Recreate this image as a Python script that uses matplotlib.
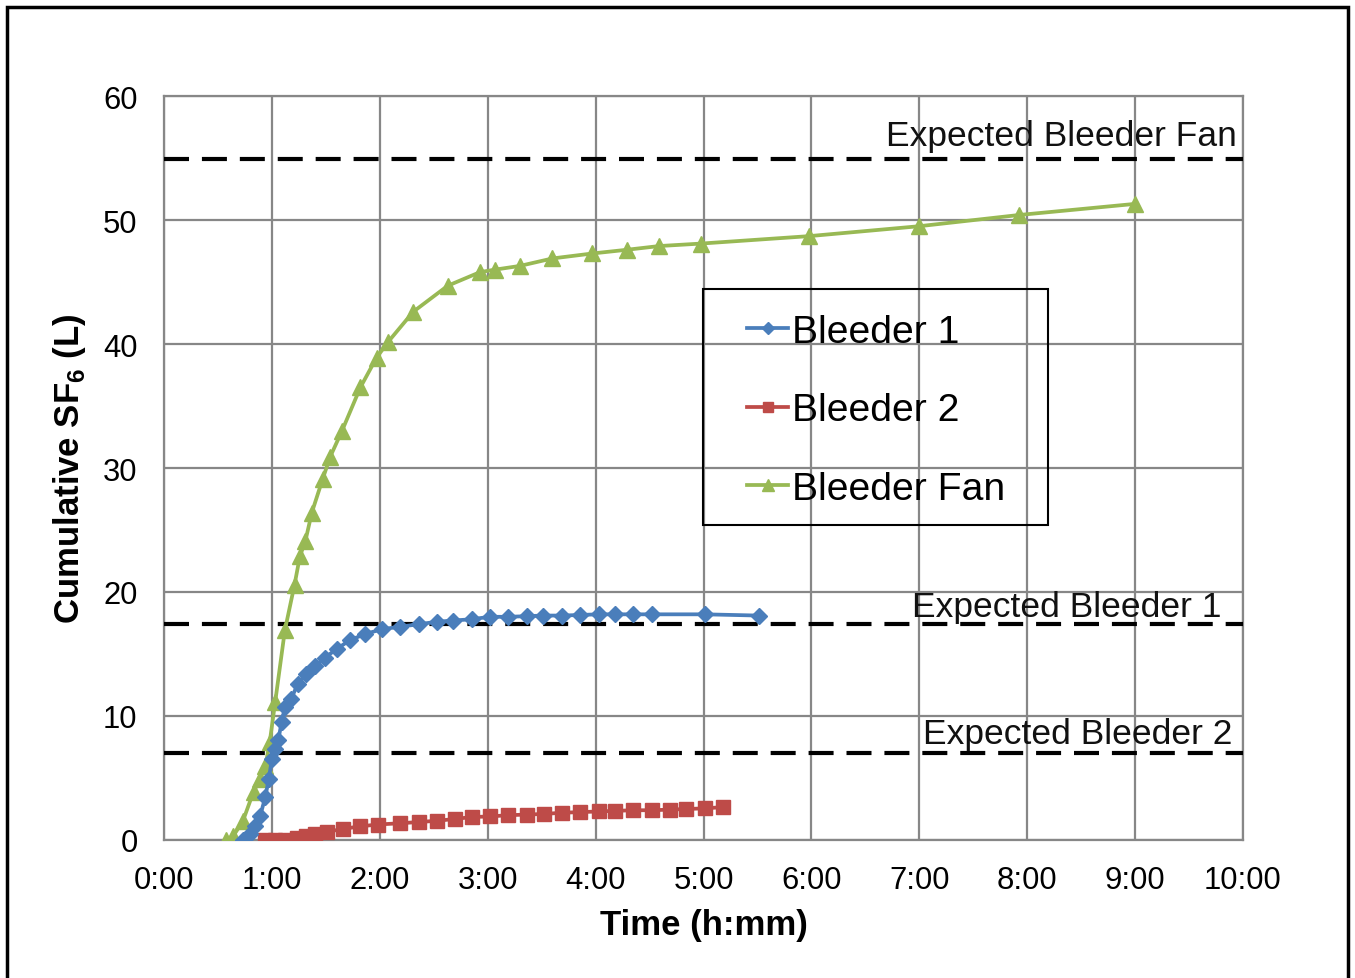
import matplotlib
matplotlib.use('Agg')
import matplotlib.pyplot as plt
from matplotlib.patches import Rectangle

plt.rcParams['font.family'] = ['Liberation Sans', 'DejaVu Sans']
plt.rcParams['mathtext.fontset'] = 'custom'
plt.rcParams['mathtext.bf'] = 'Liberation Sans:bold'
plt.rcParams['mathtext.rm'] = 'Liberation Sans'

# elapsed time in hours, cumulative SF6 in litres
b1_time = [0.73, 0.80, 0.84, 0.89, 0.94, 0.97, 1.00, 1.03, 1.06, 1.09, 1.12, 1.18,
           1.24, 1.32, 1.40, 1.49, 1.60, 1.72, 1.86, 2.02, 2.19, 2.36, 2.53, 2.68,
           2.85, 3.02, 3.19, 3.36, 3.51, 3.69, 3.86, 4.03, 4.18, 4.35, 4.52, 5.01, 5.51]
b1_sf6 = [0.0, 0.5, 1.1, 1.9, 3.5, 4.9, 6.5, 7.3, 8.1, 9.5, 10.7, 11.4,
          12.6, 13.4, 14.0, 14.7, 15.4, 16.1, 16.6, 17.0, 17.2, 17.4, 17.6, 17.7,
          17.8, 18.0, 18.0, 18.05, 18.1, 18.1, 18.15, 18.2, 18.2, 18.2, 18.2, 18.2, 18.1]

b2_time = [0.94, 1.03, 1.12, 1.23, 1.32, 1.40, 1.51, 1.66, 1.82, 1.98, 2.19, 2.36,
           2.53, 2.70, 2.85, 3.02, 3.19, 3.36, 3.52, 3.69, 3.86, 4.03, 4.18, 4.35,
           4.52, 4.69, 4.84, 5.01, 5.18]
b2_sf6 = [0.0, 0.0, 0.0, 0.2, 0.35, 0.5, 0.65, 0.9, 1.1, 1.25, 1.35, 1.45,
          1.55, 1.7, 1.85, 1.9, 2.0, 2.05, 2.1, 2.2, 2.25, 2.3, 2.35, 2.4,
          2.4, 2.45, 2.5, 2.55, 2.65]

fan_time = [0.57, 0.64, 0.73, 0.83, 0.89, 0.94, 0.98, 1.03, 1.12, 1.21, 1.26, 1.31,
            1.37, 1.47, 1.54, 1.65, 1.82, 1.97, 2.08, 2.31, 2.63, 2.93, 3.07, 3.30,
            3.60, 3.97, 4.29, 4.59, 4.98, 5.98, 7.00, 7.92, 9.00]
fan_sf6 = [0.0, 0.3, 1.5, 3.9, 4.9, 6.0, 7.9, 11.1, 16.9, 20.6, 22.9, 24.1,
           26.4, 29.1, 30.9, 33.0, 36.5, 38.9, 40.2, 42.6, 44.7, 45.8, 46.0, 46.3,
           46.9, 47.3, 47.6, 47.9, 48.1, 48.7, 49.5, 50.4, 51.3]

expected_names = ['Expected Bleeder Fan', 'Expected Bleeder 1', 'Expected Bleeder 2']
expected_values = [54.9, 17.4, 7.0]

hours = list(range(0, 11))
hour_labels = [f'{h}:00' for h in hours]

W, H = 1355, 979
fig = plt.figure(figsize=(W / 100, H / 100), dpi=100)
ax = fig.add_axes([164 / W, 1 - 841 / H, (1243 - 164) / W, (841 - 97) / H])

grid_col = '#878787'
for name, val, tx, ty in zip(expected_names, expected_values,
                             [9.94, 9.805, 9.90], [56.8, 18.87, 8.55]):
    ax.axhline(val, color='black', lw=3, dashes=(6, 3.1), zorder=3)
    ax.text(tx, ty, name, ha='right', va='center', fontsize=25.5, color='#111111', zorder=4)

ax.plot(b1_time, b1_sf6, color='#4A7EBB', lw=2.7, marker='D', ms=8,
        label='Bleeder 1', zorder=6)
ax.plot(b2_time, b2_sf6, color='#BE4B48', lw=2.7, marker='s', ms=10,
        label='Bleeder 2', zorder=5)
ax.plot(fan_time, fan_sf6, color='#98B954', lw=2.7, marker='^', ms=11,
        label='Bleeder Fan', zorder=5)

ax.set_xlim(0, 10)
ax.set_ylim(0, 60)
ax.set_xticks(hours)
ax.set_xticklabels(hour_labels)
ax.set_yticks(range(0, 61, 10))
ax.grid(True, color=grid_col, lw=1.6, zorder=0)
ax.set_axisbelow(True)
for s in ax.spines.values():
    s.set_color(grid_col)
    s.set_linewidth(1.6)
ax.tick_params(length=0, labelsize=22.3, pad=18)
ax.tick_params(axis='y', pad=19)

ax.set_xlabel('Time (h:mm)', fontsize=25, fontweight='bold', labelpad=9)
ax.set_ylabel(r'Cumulative SF$_\mathbf{6}$ (L)', fontsize=25, fontweight='bold', labelpad=11)

# legend entries without frame, boxed by a separate rectangle
leg = fig.legend(loc='upper left', bbox_to_anchor=(747 / W, 1 - 315 / H),
                 fontsize=28.2, frameon=False, borderaxespad=0, borderpad=0,
                 handlelength=1.05, handletextpad=0.1, labelspacing=1.08,
                 markerscale=0.75)
fig.patches.append(Rectangle((703 / W, 1 - 526 / H), (1048 - 703) / W, (526 - 290) / H,
                             transform=fig.transFigure, fill=False,
                             edgecolor='black', lw=1.5))

fig.patches.append(Rectangle((7 / W, -0.02), (1348 - 7) / W, 1.02 - 8 / H,
                             transform=fig.transFigure, fill=False,
                             edgecolor='black', lw=2.5))

fig.savefig('out.png', dpi=100)
